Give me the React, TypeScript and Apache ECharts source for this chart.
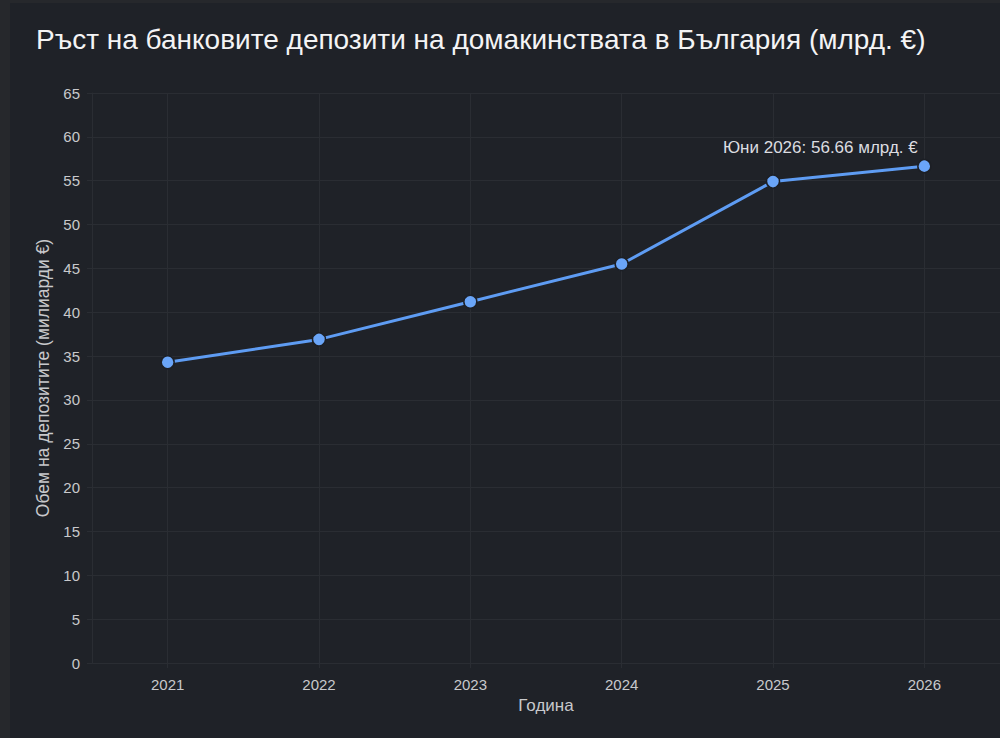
import {useEffect, useRef} from 'react';
import * as echarts from 'echarts';

const years = ['2021', '2022', '2023', '2024', '2025', '2026'];
const deposits = [34.3, 36.9, 41.2, 45.5, 54.9, 56.66];
const lastLabelMonth = 'Юни';

const title = 'Ръст на банковите депозити на домакинствата в България (млрд. €)';
const yName = 'Обем на депозитите (милиарди €)';
const xName = 'Година';

const gridColor = '#2a2d33';
const textColor = '#c8c9cc';
const lineColor = '#5e9cf3';

export default function App() {
    const ref = useRef<HTMLDivElement | null>(null);

    useEffect(() => {
        if (!ref.current) return;
        const chart = echarts.init(ref.current, null, {renderer: 'svg'});
        const last = deposits.length - 1;

        chart.setOption({
            animation: false,
            backgroundColor: 'transparent',
            textStyle: {fontFamily: 'Liberation Sans, Arial, sans-serif'},
            title: {
                text: title,
                left: 31,
                top: 20,
                textStyle: {color: '#f4f4f5', fontSize: 28, fontWeight: 'normal'}
            },
            grid: {left: 92, right: 0, top: 93, bottom: 75},
            xAxis: {
                type: 'category',
                data: years,
                boundaryGap: true,
                name: xName,
                nameLocation: 'middle',
                nameGap: 33,
                nameTextStyle: {color: textColor, fontSize: 17},
                axisLine: {show: false},
                axisTick: {show: true, alignWithLabel: true, length: 5, lineStyle: {color: gridColor}},
                axisLabel: {color: textColor, fontSize: 15, margin: 14},
                splitLine: {show: false}
            },
            yAxis: {
                type: 'value',
                min: 0,
                max: 65,
                interval: 5,
                name: yName,
                nameLocation: 'middle',
                nameGap: 35,
                nameTextStyle: {color: textColor, fontSize: 17.5},
                axisLine: {show: true, lineStyle: {color: gridColor}},
                axisTick: {show: true, length: 5, lineStyle: {color: gridColor}},
                axisLabel: {color: textColor, fontSize: 15, margin: 12},
                splitLine: {show: true, lineStyle: {color: gridColor, width: 1}}
            },
            series: [{
                type: 'line',
                data: deposits.map((v, i) => i === last ? {
                    value: v,
                    label: {
                        show: true,
                        position: 'top',
                        offset: [-104, 2],
                        color: '#dcdde0',
                        fontSize: 17,
                        formatter: `${lastLabelMonth} ${years[last]}: ${v} млрд. €`
                    }
                } : v),
                symbol: 'circle',
                symbolSize: 13,
                lineStyle: {color: lineColor, width: 3},
                itemStyle: {color: '#6aa5f8', borderColor: '#1c1f25', borderWidth: 1.5},
                markLine: {
                    silent: true,
                    symbol: ['none', 'none'],
                    label: {show: false},
                    lineStyle: {color: gridColor, type: 'solid', width: 1},
                    data: years.map(y => ({xAxis: y})),
                    z: 1
                },
                z: 3
            }]
        });

        return () => chart.dispose();
    }, []);

    return (
        <div
            ref={ref}
            style={{
                position: 'fixed',
                left: 0,
                top: 0,
                width: 1000,
                height: 738,
                background: '#1f2228',
                boxShadow: 'inset 10px 3px 0 #26282c'
            }}
        />
    );
}
